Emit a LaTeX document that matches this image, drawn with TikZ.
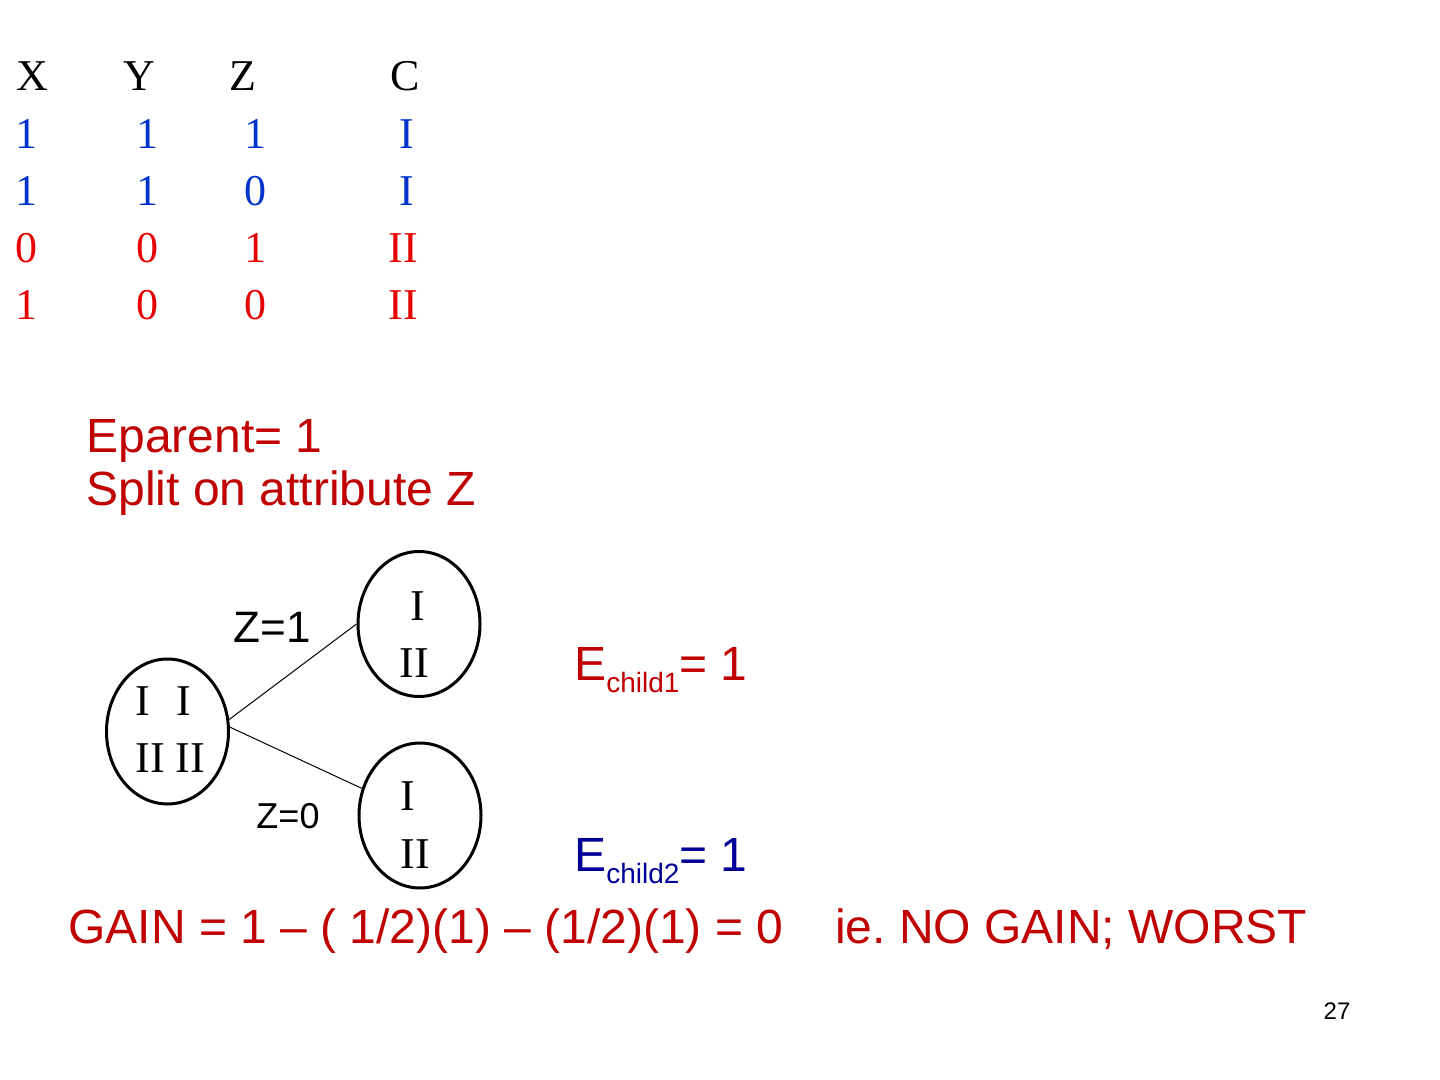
\documentclass[tikz,border=0pt]{standalone}
\usepackage{fontspec}
\setmainfont{Liberation Serif}
\setsansfont{Liberation Sans}
\usetikzlibrary{shapes.geometric}

\definecolor{rowblue}{RGB}{0,51,204}
\definecolor{rowred}{RGB}{230,0,0}
\definecolor{notered}{RGB}{192,0,0}
\definecolor{notenavy}{RGB}{0,0,153}

\tikzset{
  cell/.style={anchor=base,inner sep=0pt,font=\fontsize{22}{26}\selectfont},
  numeral/.style={anchor=base west,inner sep=0pt,font=\fontsize{22}{26}\selectfont},
  note/.style={anchor=base west,inner sep=0pt,text=notered,font=\sffamily\fontsize{24}{28}\selectfont},
  branch/.style={anchor=base,inner sep=0pt,font=\sffamily\fontsize{22}{26}\selectfont},
  leaf/.style={ellipse,draw,line width=1.5pt,minimum width=61pt,minimum height=72.5pt,inner sep=0pt}
}

\begin{document}
\begin{tikzpicture}[x=0.5pt,y=-0.5pt]
\useasboundingbox (0,0) rectangle (1440,1080);

% data table
\node[cell] (hx) at (32,91) {X};
\node[cell] (hy) at (139,91) {Y};
\node[cell] (hz) at (243,91) {Z};
\node[cell] (hc) at (405,91) {C};

\node[cell,text=rowblue] (x1) at (27,149) {1};
\node[cell,text=rowblue] (y1) at (147,149) {1};
\node[cell,text=rowblue] (z1) at (255,149) {1};
\node[cell,text=rowblue] (c1) at (407,149) {I};

\node[cell,text=rowblue] (x2) at (27,206) {1};
\node[cell,text=rowblue] (y2) at (147,206) {1};
\node[cell,text=rowblue] (z2) at (255,206) {0};
\node[cell,text=rowblue] (c2) at (407,206) {I};

\node[cell,text=rowred] (x3) at (27,263) {0};
\node[cell,text=rowred] (y3) at (147,263) {0};
\node[cell,text=rowred] (z3) at (255,263) {1};
\node[cell,text=rowred] (c3) at (403,263) {II};

\node[cell,text=rowred] (x4) at (27,320) {1};
\node[cell,text=rowred] (y4) at (147,320) {0};
\node[cell,text=rowred] (z4) at (255,320) {0};
\node[cell,text=rowred] (c4) at (403,320) {II};

% parent entropy
\node[note] (eparent) at (86,452) {Eparent= 1};
\node[note] (split) at (86,505) {Split on attribute Z};

% split tree
\node[leaf] (root) at (167.5,731.5) {};
\node[leaf] (zone) at (419,624) {};
\node[leaf] (zzero) at (420,815.5) {};

\node[numeral] (rootup) at (135,715) {I\hspace{13pt}I};
\node[numeral] (rootdown) at (135,772) {II II};
\node[cell] (zoneup) at (418,620) {I};
\node[cell] (zonedown) at (414,677) {II};
\node[numeral] (zzeroup) at (400,810) {I};
\node[numeral] (zzerodown) at (400,868) {II};

\draw[line width=0.5pt] (root.11) -- (zone.west);
\draw[line width=0.5pt] (root.4) -- (zzero.155);

\node[branch,text=black] (lone) at (272.5,642) {Z=1};
\node[branch,text=black,font=\sffamily\fontsize{18}{22}\selectfont] (lzero) at (288,828) {Z=0};

% child entropies
\node[note] (echildone) at (574,680) {E\raisebox{-6pt}{\fontsize{14}{16}\selectfont child1}= 1};
\node[note,text=notenavy] (echildtwo) at (574,871) {E\raisebox{-6pt}{\fontsize{14}{16}\selectfont child2}= 1};

\node[note] (gain) at (68,943) {GAIN = 1 -- ( 1/2)(1) -- (1/2)(1) = 0\hspace{26pt}ie.\ NO GAIN; WORST};

\node[anchor=base,inner sep=0pt,font=\sffamily\fontsize{12}{14}\selectfont] (page) at (1337,1019) {27};
\end{tikzpicture}
\end{document}
